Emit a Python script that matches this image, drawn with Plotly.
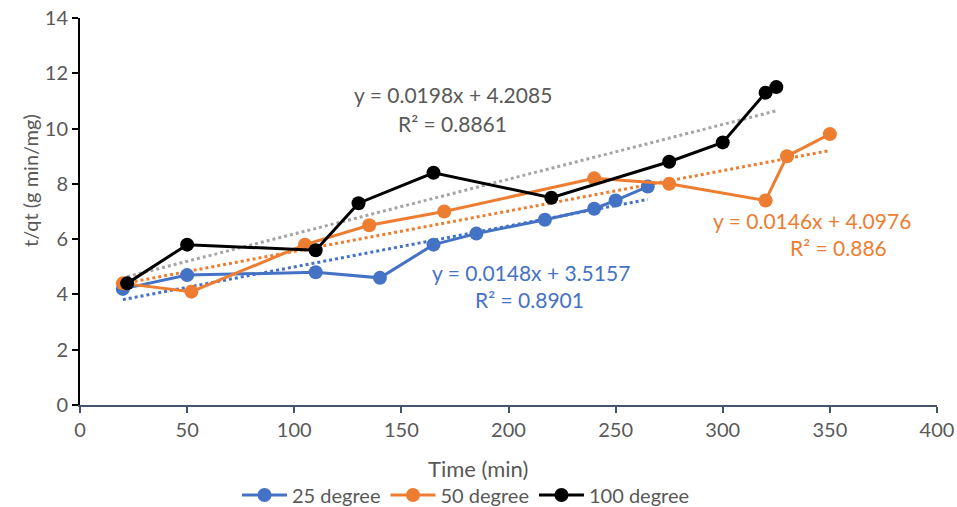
import plotly.graph_objects as go

# ---- data ----
x25 = [20, 50, 110, 140, 165, 185, 217, 240, 250, 265]
y25 = [4.2, 4.7, 4.8, 4.6, 5.8, 6.2, 6.7, 7.1, 7.4, 7.9]

x50 = [20, 52, 105, 135, 170, 240, 275, 320, 330, 350]
y50 = [4.4, 4.1, 5.8, 6.5, 7.0, 8.2, 8.0, 7.4, 9.0, 9.8]

x100 = [22, 50, 110, 130, 165, 220, 275, 300, 320, 325]
y100 = [4.4, 5.8, 5.6, 7.3, 8.4, 7.5, 8.8, 9.5, 11.3, 11.5]

series_names = ["25 degree", "50 degree", "100 degree"]
# trendline coefficients (slope, intercept, R2) as printed on the chart
fit25 = (0.0148, 3.5157, "0.8901")
fit50 = (0.0146, 4.0976, "0.886")
fit100 = (0.0198, 4.2085, "0.8861")

BLUE = "#4472C4"
ORANGE = "#ED7D31"
BLACK = "#000000"
GRAY = "#A5A5A5"
TXT = "#595959"
FONT = "Lato, 'Open Sans', sans-serif"
FS = 20

fig = go.Figure()

def trend(xs, fit, color):
    x0, x1 = min(xs), max(xs)
    m, b, _ = fit
    fig.add_trace(go.Scatter(x=[x0, x1], y=[m * x0 + b, m * x1 + b], mode="lines",
                             line=dict(color=color, width=3, dash="dot"),
                             showlegend=False, hoverinfo="skip"))

trend(x25, fit25, BLUE)
trend(x50, fit50, ORANGE)
trend(x100, fit100, GRAY)

for xs, ys, name, c in [(x25, y25, series_names[0], BLUE),
                        (x50, y50, series_names[1], ORANGE),
                        (x100, y100, series_names[2], BLACK)]:
    fig.add_trace(go.Scatter(x=xs, y=ys, mode="lines+markers", name=name,
                             line=dict(color=c, width=3),
                             marker=dict(color=c, size=14)))

def eq(fit):
    return f"y = {fit[0]}x + {fit[1]}"

anns = [
    (174, 11.22, eq(fit100), TXT), (174, 10.2, f"R² = {fit100[2]}", TXT),
    (210.5, 4.81, eq(fit25), BLUE), (210, 3.8, f"R² = {fit25[2]}", BLUE),
    (341.7, 6.69, eq(fit50), ORANGE), (353.8, 5.68, f"R² = {fit50[2]}", ORANGE),
]
annotations = [dict(x=ax, y=ay, xref="x", yref="y", text=t, showarrow=False,
                    font=dict(size=21, color=c, family=FONT),
                    xanchor="center", yanchor="middle") for ax, ay, t, c in anns]

annotations.append(dict(x=(30 - 80) / 857, y=(405 - 181) / 387, xref="paper", yref="paper",
                        text="t/qt (g min/mg)", textangle=-90, showarrow=False,
                        font=dict(size=FS, color=TXT, family=FONT),
                        xanchor="center", yanchor="middle"))
annotations.append(dict(x=(478 - 80) / 857, y=(405 - 468) / 387, xref="paper", yref="paper",
                        text="Time (min)", showarrow=False,
                        font=dict(size=22, color=TXT, family=FONT),
                        xanchor="center", yanchor="middle"))

fig.update_layout(
    width=957, height=507,
    margin=dict(l=80, r=20, t=18, b=102, autoexpand=False),
    paper_bgcolor="white", plot_bgcolor="white",
    font=dict(family=FONT, size=FS, color=TXT),
    showlegend=True,
    legend=dict(orientation="h", xref="container", yref="container",
                x=466 / 957, y=1 - 495 / 507,
                xanchor="center", yanchor="middle", itemwidth=45,
                font=dict(size=FS, color=TXT, family=FONT), bgcolor="rgba(0,0,0,0)"),
    annotations=annotations,
    xaxis=dict(range=[0, 400], tickvals=list(range(0, 401, 50)), showgrid=False,
               zeroline=False, showline=True, linecolor="#44546A", linewidth=2,
               ticks="outside", ticklen=6, tickcolor="#44546A", tickwidth=2,
               tickfont=dict(size=FS, color=TXT)),
    yaxis=dict(range=[0, 14], tickvals=list(range(0, 15, 2)), showgrid=False,
               zeroline=False, showline=True, linecolor="black", linewidth=2,
               ticks="outside", ticklen=6, tickcolor="black", tickwidth=2,
               tickfont=dict(size=FS, color=TXT)),
)

fig.write_html("out.html")
